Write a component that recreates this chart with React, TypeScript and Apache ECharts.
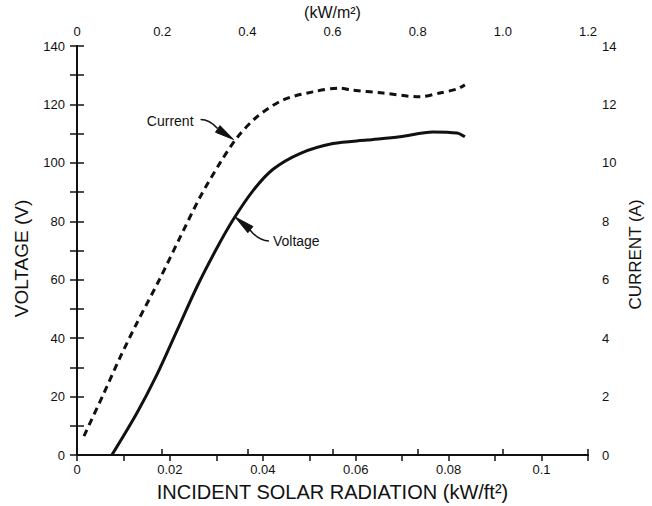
import React, { useEffect, useRef } from "react";
import * as echarts from "echarts";

// Incident solar radiation (kW/ft²)
const voltageX = [0.0075, 0.0129, 0.0172, 0.0215, 0.0258, 0.03, 0.0336, 0.0379, 0.0422, 0.048, 0.0551, 0.0624, 0.0695, 0.0766, 0.0818, 0.0835];
// Voltage (V)
const voltageY = [0, 14.4, 27.5, 42.5, 57.5, 70.5, 80.5, 90.5, 97.8, 103.2, 106.6, 107.8, 108.9, 110.6, 110.2, 108.9];

const currentX = [0.0015, 0.0058, 0.0093, 0.0129, 0.0177, 0.022, 0.0265, 0.0308, 0.0344, 0.0387, 0.0443, 0.0508, 0.0566, 0.0588, 0.0659, 0.0738, 0.0781, 0.0818, 0.0835];
// Current (A)
const currentY = [0.65, 2.12, 3.35, 4.52, 5.99, 7.39, 8.83, 10.0, 10.85, 11.57, 12.15, 12.43, 12.56, 12.5, 12.39, 12.26, 12.39, 12.53, 12.67];

const FONT = "'Liberation Sans', Arial, Helvetica, sans-serif";
const INK = "#111";

function arrowHead(tip: number[], from: number[], len: number, hw: number) {
  const dx = tip[0] - from[0];
  const dy = tip[1] - from[1];
  const d = Math.hypot(dx, dy);
  const ux = dx / d, uy = dy / d;
  const bx = tip[0] - ux * len, by = tip[1] - uy * len;
  return [
    [tip[0], tip[1]],
    [bx - uy * hw, by + ux * hw],
    [bx + uy * hw, by - ux * hw],
  ];
}

export default function App() {
  const ref = useRef<HTMLDivElement>(null);
  useEffect(() => {
    if (!ref.current) return;
    const chart = echarts.init(ref.current, null, { renderer: "svg" });
    const axisLine = { show: true, lineStyle: { color: INK, width: 2 } };
    const tickStyle = { color: INK, width: 1.5 };
    const labelStyle = { color: INK, fontSize: 13, fontFamily: FONT };
    chart.setOption({
      animation: false,
      backgroundColor: "#fff",
      grid: { left: 77, right: 64, top: 46, bottom: 51, containLabel: false, outerBoundsMode: "none" },
      xAxis: [
        {
          type: "value",
          position: "bottom",
          min: 0,
          max: 0.11,
          interval: 0.01,
          axisLine,
          axisTick: { show: true, inside: false, length: 6, lineStyle: tickStyle },
          splitLine: { show: false },
          axisLabel: {
            ...labelStyle,
            margin: 8,
            formatter: (v: number) => {
              const n = Math.round(v * 100);
              return n % 2 === 0 ? String(n / 100) : "";
            },
          },
          name: "INCIDENT SOLAR RADIATION (kW/ft²)",
          nameLocation: "middle",
          nameGap: 27,
          nameTextStyle: { color: INK, fontSize: 20, fontFamily: FONT, verticalAlign: "top" },
        },
        {
          type: "value",
          position: "top",
          min: 0,
          max: 1.2,
          interval: 0.2,
          axisLine,
          axisTick: { show: true, inside: false, length: 6, lineStyle: tickStyle },
          splitLine: { show: false },
          axisLabel: {
            ...labelStyle,
            margin: 8,
            formatter: (v: number) => (v === 0 ? "0" : v.toFixed(1)),
          },
          name: "(kW/m²)",
          nameLocation: "middle",
          nameGap: 23,
          nameTextStyle: { color: INK, fontSize: 16, fontFamily: FONT },
        },
      ],
      yAxis: [
        {
          type: "value",
          position: "left",
          min: 0,
          max: 140,
          interval: 10,
          axisLine,
          axisTick: { show: true, inside: false, length: 7, lineStyle: tickStyle },
          splitLine: { show: false },
          axisLabel: {
            ...labelStyle,
            margin: 12,
            formatter: (v: number) => (Math.round(v) % 20 === 0 ? String(v) : ""),
          },
          name: "VOLTAGE (V)",
          nameLocation: "middle",
          nameRotate: 90,
          nameGap: 46,
          nameTextStyle: { color: INK, fontSize: 19, fontFamily: FONT, padding: [0, 0, 0, -16] },
        },
        {
          type: "value",
          position: "right",
          min: 0,
          max: 14,
          interval: 1,
          axisLine,
          axisTick: { show: true, inside: false, length: 7, lineStyle: tickStyle },
          splitLine: { show: false },
          axisLabel: {
            ...labelStyle,
            margin: 14,
            formatter: (v: number) => (Math.round(v) % 2 === 0 ? String(v) : ""),
          },
          name: "CURRENT (A)",
          nameLocation: "middle",
          nameRotate: 90,
          nameGap: 35,
          nameTextStyle: { color: INK, fontSize: 17, fontFamily: FONT, padding: [0, 0, 0, -8] },
        },
      ],
      series: [
        {
          name: "Voltage",
          type: "line",
          xAxisIndex: 0,
          yAxisIndex: 0,
          data: voltageX.map((x, i) => [x, voltageY[i]]),
          smooth: 0.3,
          showSymbol: false,
          lineStyle: { color: INK, width: 3 },
        },
        {
          name: "Current",
          type: "line",
          xAxisIndex: 0,
          yAxisIndex: 1,
          data: currentX.map((x, i) => [x, currentY[i]]),
          smooth: 0.3,
          showSymbol: false,
          lineStyle: { color: INK, width: 3, type: [7, 5] },
        },
      ],
    });

    const vt = chart.convertToPixel({ xAxisIndex: 0, yAxisIndex: 0 }, [0.034, 81.5]) as number[];
    const ct = chart.convertToPixel({ xAxisIndex: 0, yAxisIndex: 1 }, [0.0337, 10.8]) as number[];
    const cBase = [ct[0] - 18, ct[1] - 12];
    const vBase = [vt[0] + 17, vt[1] + 14];
    const headStyle = { fill: INK, stroke: INK, lineWidth: 1 };
    chart.setOption({
      graphic: [
        {
          type: "text",
          x: ct[0] - 40,
          y: ct[1] - 18,
          style: { text: "Current", fill: INK, fontSize: 14, fontFamily: FONT, align: "right", verticalAlign: "middle" },
        },
        {
          type: "bezierCurve",
          shape: { x1: ct[0] - 33, y1: ct[1] - 20, cpx1: ct[0] - 24, cpy1: ct[1] - 20, x2: cBase[0] + 2, y2: cBase[1] + 1 },
          style: { stroke: INK, lineWidth: 1.5, fill: "none" },
        },
        {
          type: "polygon",
          shape: { points: arrowHead(ct, cBase, 19, 4) },
          style: headStyle,
        },
        {
          type: "text",
          x: vt[0] + 38,
          y: vt[1] + 24,
          style: { text: "Voltage", fill: INK, fontSize: 14, fontFamily: FONT, align: "left", verticalAlign: "middle" },
        },
        {
          type: "bezierCurve",
          shape: { x1: vt[0] + 34, y1: vt[1] + 24, cpx1: vt[0] + 24, cpy1: vt[1] + 24, x2: vBase[0] - 2, y2: vBase[1] - 1 },
          style: { stroke: INK, lineWidth: 1.5, fill: "none" },
        },
        {
          type: "polygon",
          shape: { points: arrowHead(vt, vBase, 20, 4) },
          style: headStyle,
        },
      ],
    });
    return () => chart.dispose();
  }, []);
  return (
    <div
      ref={ref}
      style={{ position: "absolute", left: 0, top: 0, width: 652, height: 506, background: "#fff" }}
    />
  );
}
